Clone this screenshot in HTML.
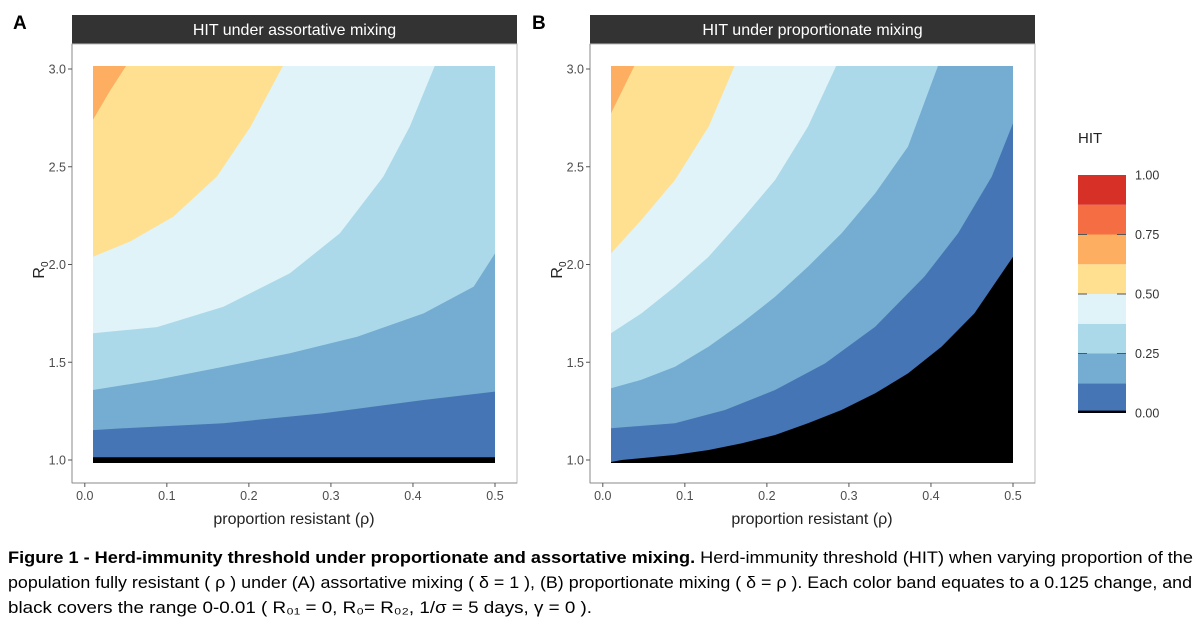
<!DOCTYPE html>
<html><head><meta charset="utf-8"><style>
body{margin:0;background:#fff;width:1200px;height:629px;overflow:hidden;font-family:"Liberation Sans",sans-serif}
svg{display:block}
</style></head><body>
<svg id="fig" width="1200" height="629" xmlns="http://www.w3.org/2000/svg" font-family="Liberation Sans, sans-serif">
<defs>
<clipPath id="clipA"><rect x="93" y="66" width="402" height="397"/></clipPath>
<clipPath id="clipB"><rect x="611" y="66" width="402" height="397"/></clipPath>
</defs>
<text x="13" y="29" font-size="19" font-weight="bold">A</text>
<text x="532" y="29" font-size="19" font-weight="bold">B</text>
<g id="panels"></g>
<g id="legend">
<text x="1078" y="143" font-size="15" fill="#222">HIT</text>
</g>
<g font-size="16.5" fill="#000">
<text x="8" y="563" textLength="1185" lengthAdjust="spacingAndGlyphs"><tspan font-weight="bold">Figure 1 - Herd-immunity threshold under proportionate and assortative mixing.</tspan> Herd-immunity threshold (HIT) when varying proportion of the</text>
<text x="8" y="588" textLength="1184" lengthAdjust="spacingAndGlyphs">population fully resistant ( ρ ) under (A) assortative mixing ( δ = 1 ), (B) proportionate mixing ( δ = ρ ). Each color band equates to a 0.125 change, and</text>
<text x="8" y="613" textLength="584" lengthAdjust="spacingAndGlyphs">black covers the range 0-0.01 ( R₀₁ = 0,  R₀= R₀₂,  1/σ = 5 days,  γ = 0  ).</text>
</g>
</svg>
<script>
// ---- data: HIT contour boundaries as [rho, R0] points ----
const thresholds = [0.01, 0.125, 0.25, 0.375, 0.5, 0.625];
const bandColors = ["#4575b4","#74add1","#abd9e9","#e0f3f8","#fee090","#fdae61"];
const A_b010 = [[0.01,1.014],[0.5,1.014]];
const A_b125 = [[0.01,1.153],[0.047,1.162],[0.169,1.188],[0.291,1.239],[0.413,1.307],[0.5,1.35]];
const A_b250 = [[0.01,1.358],[0.088,1.41],[0.169,1.477],[0.25,1.546],[0.332,1.63],[0.413,1.75],[0.474,1.887],[0.5,2.057]];
const A_b375 = [[0.01,1.648],[0.088,1.68],[0.169,1.784],[0.25,1.955],[0.311,2.16],[0.364,2.45],[0.396,2.705],[0.427,3.02]];
const A_b500 = [[0.01,2.04],[0.055,2.117],[0.108,2.245],[0.161,2.45],[0.202,2.705],[0.242,3.02]];
const A_b625 = [[0.01,2.74],[0.031,2.89],[0.051,3.02]];
const B_b010 = [[0.01,0.99],[0.023,1.0],[0.088,1.026],[0.129,1.051],[0.169,1.085],[0.21,1.128],[0.25,1.188],[0.291,1.256],[0.332,1.341],[0.372,1.443],[0.413,1.58],[0.453,1.75],[0.5,2.04]];
const B_b125 = [[0.01,1.162],[0.088,1.188],[0.149,1.256],[0.21,1.358],[0.271,1.494],[0.332,1.682],[0.392,1.938],[0.433,2.159],[0.474,2.449],[0.5,2.722]];
const B_b250 = [[0.01,1.367],[0.047,1.41],[0.088,1.477],[0.129,1.58],[0.169,1.699],[0.21,1.835],[0.25,1.989],[0.291,2.159],[0.332,2.364],[0.372,2.603],[0.409,3.02]];
const B_b375 = [[0.01,1.648],[0.047,1.75],[0.088,1.887],[0.129,2.04],[0.169,2.228],[0.21,2.432],[0.25,2.705],[0.285,3.02]];
const B_b500 = [[0.01,2.057],[0.047,2.228],[0.088,2.432],[0.129,2.705],[0.161,3.02]];
const B_b625 = [[0.01,2.773],[0.039,3.02]];
const xTicks = [0.0,0.1,0.2,0.3,0.4,0.5];
const xTickLabels = ["0.0","0.1","0.2","0.3","0.4","0.5"];
const yTicks = [1.0,1.5,2.0,2.5,3.0];
const yTickLabels = ["1.0","1.5","2.0","2.5","3.0"];
const legendBreaks = [0,0.125,0.25,0.375,0.5,0.625,0.75,0.875,1.0];
const legendColors = ["#4575b4","#74add1","#abd9e9","#e0f3f8","#fee090","#fdae61","#f46d43","#d73027"];
const legendTicks = [0.0,0.25,0.5,0.75,1.0];
const legendTickLabels = ["0.00","0.25","0.50","0.75","1.00"];

const NS="http://www.w3.org/2000/svg";
function mk(tag,attrs,parent){const e=document.createElementNS(NS,tag);for(const k in attrs)e.setAttribute(k,attrs[k]);parent.appendChild(e);return e;}
const panelsG=document.getElementById('panels');

function drawPanel(key,left,title,bounds){
  const x0=left+21, x1=left+423, yTop=66, yBot=463;
  const xs=r=>x0+(r-0.01)/0.49*(x1-x0);
  const ys=v=>460-(v-1)/2*391;
  const g=mk('g',{},panelsG);
  
  
  const strip=mk('rect',{x:left,y:15,width:445,height:29,fill:'#333333'},g);
  
  
  const st=mk('text',{x:left+222.5,y:35,'font-size':16,fill:'#fff','text-anchor':'middle'},g);
  st.textContent=title;
  
  
  const frame=mk('rect',{x:left,y:44,width:445,height:439,fill:'none',stroke:'#bbb','stroke-width':1},g);
  
  
  const hm=mk('g',{'clip-path':'url(#clip'+key+')'},g);
  
  
  const bg=mk('rect',{x:x0,y:yTop,width:x1-x0,height:yBot-yTop,fill:'#000'},hm);
  
  
  bounds.forEach((pts,i)=>{
    const poly=pts.slice();
    if(pts[pts.length-1][0]>=0.5) poly.push([0.52,3.05]);
    poly.push([0.0,3.05]);
    poly.push([0.0,pts[0][1]]);
    const d=poly.map(p=>xs(p[0]).toFixed(1)+','+ys(p[1]).toFixed(1)).join(' ');
    const pg=mk('polygon',{points:d,fill:bandColors[i]},hm);
    
    
  });
  const ax=mk('line',{x1:left,y1:44,x2:left,y2:483,stroke:'#888','stroke-width':1},g);
  
  
  const bx=mk('line',{x1:left,y1:483,x2:left+445,y2:483,stroke:'#888','stroke-width':1},g);
  
  
  xTicks.forEach((t,i)=>{
    const x=xs(t);
    const tk=mk('line',{x1:x,y1:483,x2:x,y2:487,stroke:'#555'},g);
    
    
    const tl=mk('text',{x:x,y:500,'font-size':12.5,fill:'#4d4d4d','text-anchor':'middle'},g);
    tl.textContent=xTickLabels[i];
    
    
  });
  yTicks.forEach((t,i)=>{
    const y=ys(t);
    const tk=mk('line',{x1:left-4,y1:y,x2:left,y2:y,stroke:'#555'},g);
    
    
    const tl=mk('text',{x:left-6,y:y+4.5,'font-size':12.5,fill:'#4d4d4d','text-anchor':'end'},g);
    tl.textContent=yTickLabels[i];
    
    
  });
  const xl=mk('text',{x:left+222,y:524,'font-size':16,fill:'#222','text-anchor':'middle'},g);
  xl.textContent='proportion resistant (ρ)';
  
  
  const yl=mk('text',{transform:'translate('+(left-28)+',270) rotate(-90)','font-size':16,fill:'#222','text-anchor':'middle'},g);
  yl.innerHTML='R<tspan font-size="10" dy="4">0</tspan>';
  
  
}
drawPanel('A',72,'HIT under assortative mixing',[A_b010,A_b125,A_b250,A_b375,A_b500,A_b625]);
drawPanel('B',590,'HIT under proportionate mixing',[B_b010,B_b125,B_b250,B_b375,B_b500,B_b625]);

const lg=document.getElementById('legend');
const lx=1078,lw=48,lTop=175,lBot=413;
const ly=v=>lBot-v*(lBot-lTop);
legendColors.forEach((c,i)=>{
  const r=mk('rect',{x:lx,y:ly(legendBreaks[i+1]),width:lw,height:ly(legendBreaks[i])-ly(legendBreaks[i+1]),fill:c},lg);
  
  
});
const blk=mk('rect',{x:lx,y:ly(0.01),width:lw,height:ly(0)-ly(0.01),fill:'#000'},lg);


legendTicks.forEach((t,i)=>{
  const y=ly(t);
  if(t>0&&t<1){
    const a=mk('line',{x1:lx,y1:y,x2:lx+9,y2:y,stroke:'#555'},lg);
    
    
    const b=mk('line',{x1:lx+lw-9,y1:y,x2:lx+lw,y2:y,stroke:'#555'},lg);
    
    
  }
  const tl=mk('text',{x:1135,y:y+4.5,'font-size':12.5,fill:'#333'},lg);
  tl.textContent=legendTickLabels[i];
  
  
});
</script>
</body></html>
